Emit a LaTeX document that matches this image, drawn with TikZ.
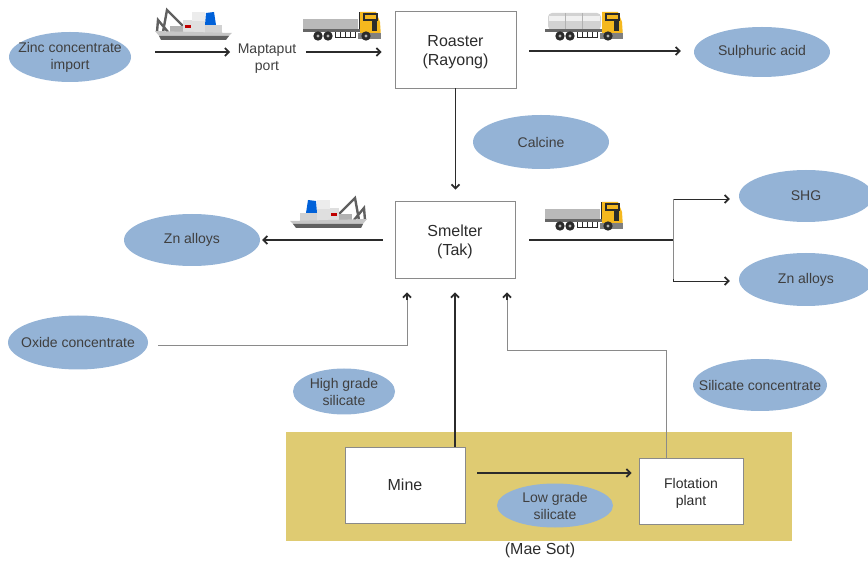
\documentclass[tikz,border=0pt]{standalone}
\usepackage{fontspec}
\setmainfont{Liberation Sans}
\usetikzlibrary{shapes.geometric,arrows.meta}
\definecolor{ell}{HTML}{94B3D6}
\definecolor{band}{HTML}{DFCB72}
\definecolor{ink}{HTML}{2B2B2B}
\definecolor{txt}{HTML}{3F3F3F}
\definecolor{thin}{HTML}{8A8A8A}
\definecolor{cabY}{HTML}{F5B81E}
\tikzset{
  bubble/.style={ellipse,fill=ell,inner sep=-14pt,align=center,text=txt,font=\fontsize{14}{17}\selectfont},
  plant/.style={draw=thin,fill=white,line width=0.9pt,inner sep=0pt,align=center,text=txt!70!black,font=\fontsize{16}{19}\selectfont},
  label/.style={align=center,inner sep=0pt,text=txt,font=\fontsize{14}{17}\selectfont},
  flow/.style={draw=ink,line width=1.6pt,-{Straight Barb[length=4pt,width=8pt,line width=1.7pt]}},
  flowline/.style={draw=ink,line width=1.6pt},
  thinflow/.style={draw=ink,line width=0.9pt,-{Straight Barb[length=4pt,width=8pt,line width=1.7pt]}},
  greyflow/.style={draw=thin,line width=0.9pt},
  greyhead/.style={draw=ink,line width=1.6pt,-{Straight Barb[length=4pt,width=8pt,line width=1.7pt]}},
  truckbase/.pic={
    \fill[gray!80!black] (0,17) rectangle (57,20);
    \fill[white] (32,20) rectangle (52,23);
    \draw[ink,line width=0.7pt] (32,20) -- (32,25) -- (52,25) -- (52,20) (37,20)--(37,25) (42,20)--(42,25) (47,20)--(47,25);
    \fill[cabY] (57,0) -- (73,0) -- (77,10) -- (78,25) -- (57,25) -- cycle;
    \draw[ink,line width=1.2pt] (61,2) rectangle (74,8);
    \fill[ink] (69,8) rectangle (74,19);
    \fill[gray] (55,21) rectangle (78,27);
    \foreach \w in {15,25,63} {\fill[ink] (\w,24) circle (4.7); \fill[gray!60] (\w,24) circle (1.7);}
  },
  truckflat/.pic={
    \fill[gray!55] (0,7) rectangle (55,17);
    \fill[ink] (56,0) rectangle (57,18);
    \pic {truckbase};
  },
  trucktank/.pic={
    \fill[gray!35,rounded corners=4pt] (3,1) rectangle (56,18);
    \fill[gray!12] (4,4) rectangle (55,9);
    \draw[gray!60,line width=0.5pt] (20,1)--(20,18) (37,1)--(37,18);
    \pic {truckbase};
  },
  vessel/.pic={
    \draw[gray!75!black,line width=2.4pt] (13,32)--(17,10)--(35,28) (7,32)--(8,20)--(18,32);
    \fill[gray!60] (20,26) rectangle (34,33);
    \fill[gray!25] (33,20) rectangle (55,33);
    \fill[gray!35] (55,25) rectangle (72,33);
    \fill[gray!15] (42,12) rectangle (55,21);
    \fill[gray!45] (5,31) -- (82,33) -- (78,37) -- (10,37) -- cycle;
    \fill[gray!75!black] (9,36) -- (79,36) -- (76,40) -- (11,40) -- cycle;
    \fill[red!75!black] (35,25) rectangle (41,28);
    \fill[blue!55!cyan!85!black] (56,13) -- (64,12) -- (66,25) -- (55,25) -- cycle;
  }
}
\begin{document}
\begin{tikzpicture}[x=1pt,y=-1pt]
\useasboundingbox (0,0) rectangle (868,561);
\fill[band] (286,432) rectangle (792,541);

% bubbles
\node[bubble,minimum width=122pt,minimum height=50pt] (zinc) at (70,57) {Zinc concentrate\\import};
\node[bubble,minimum width=136pt,minimum height=50pt] (sulph) at (762,52) {Sulphuric acid};
\node[bubble,minimum width=136pt,minimum height=54pt] (calc) at (541,142) {Calcine};
\node[bubble,minimum width=136pt,minimum height=52pt] (znl) at (192,240) {Zn alloys};
\node[bubble,minimum width=134pt,minimum height=52pt] (shg) at (806,196) {SHG};
\node[bubble,minimum width=134pt,minimum height=53pt] (znr) at (806,279.5) {Zn alloys};
\node[bubble,minimum width=140pt,minimum height=54pt] (oxide) at (78,342.5) {Oxide concentrate};
\node[bubble,minimum width=102pt,minimum height=46pt] (high) at (344,391.5) {High grade\\silicate};
\node[bubble,minimum width=134pt,minimum height=52pt] (silic) at (760,385) {Silicate concentrate};
\node[bubble,minimum width=116pt,minimum height=44pt] (low) at (555,505.5) {Low grade\\silicate};

% plants
\node[plant,minimum width=121pt,minimum height=77pt] (roast) at (455.5,49.5) {\rule{0pt}{16.5pt}Roaster\\(Rayong)};
\node[plant,minimum width=120pt,minimum height=77pt] (smelt) at (455,239.5) {\rule{0pt}{15.5pt}Smelter\\(Tak)};
\node[plant,minimum width=120pt,minimum height=76pt] (mine) at (405,485) {Mine};
\node[plant,minimum width=104pt,minimum height=66pt,font=\fontsize{14}{17}\selectfont] (flot) at (691,491) {\rule{0pt}{15pt}Flotation\\plant};
\node[label] (port) at (267,58.5) {Maptaput\\port};
\node[label,text=txt!70!black,font=\fontsize{16}{19}\selectfont] (maesot) at (540,550) {(Mae Sot)};
\coordinate (fork) at (673,240);

% vehicles
\pic at (150,0) {vessel};
\pic at (303,12) {truckflat};
\pic at (545,12) {trucktank};
\pic[xscale=-1] at (372,188) {vessel};
\pic at (545,202) {truckflat};

% connectors
\draw[flow] ([shift={(24,-5)}]zinc.east) -- ([shift={(-7.5,-6.5)}]port.west);
\draw[flow] ([shift={(9.5,-6.5)}]port.east) -- ([shift={(-13,2.5)}]roast.west);
\draw[flow] ([shift={(13,1.5)}]roast.east) -- ([shift={(-13,-1)}]sulph.west);
\draw[flow] (roast.south) -- ([shift={(0.5,-11)}]smelt.north);
\draw[flow] ([shift={(-12,0.5)}]smelt.west) -- ([shift={(2,0)}]znl.east);
\draw[flowline] ([shift={(14,0.5)}]smelt.east) -- (fork);
\draw[thinflow] (fork) |- ([shift={(-9,3)}]shg.west);
\draw[thinflow] (fork) |- ([shift={(-9,1.5)}]znr.west);
\draw[greyflow] (fork |- shg.west) ++(0,3) -- (fork |- znr.west);
\draw[greyflow] ([shift={(10,2.5)}]oxide.east) -| ([shift={(-48,22)}]smelt.south);
\draw[greyhead] ([shift={(-48,22)}]smelt.south) -- ([shift={(-48,14)}]smelt.south);
\draw[flow] ([xshift=50]mine.north) -- ([shift={(0,14)}]smelt.south);
\draw[flow] ([shift={(12,-12)}]mine.east) -- ([shift={(-7,-18)}]flot.west);
\draw[greyflow] ([xshift=-25]flot.north) |- ([shift={(52,72)}]smelt.south) -- ([shift={(52,22)}]smelt.south);
\draw[greyhead] ([shift={(52,22)}]smelt.south) -- ([shift={(52,14)}]smelt.south);
\end{tikzpicture}
\end{document}
